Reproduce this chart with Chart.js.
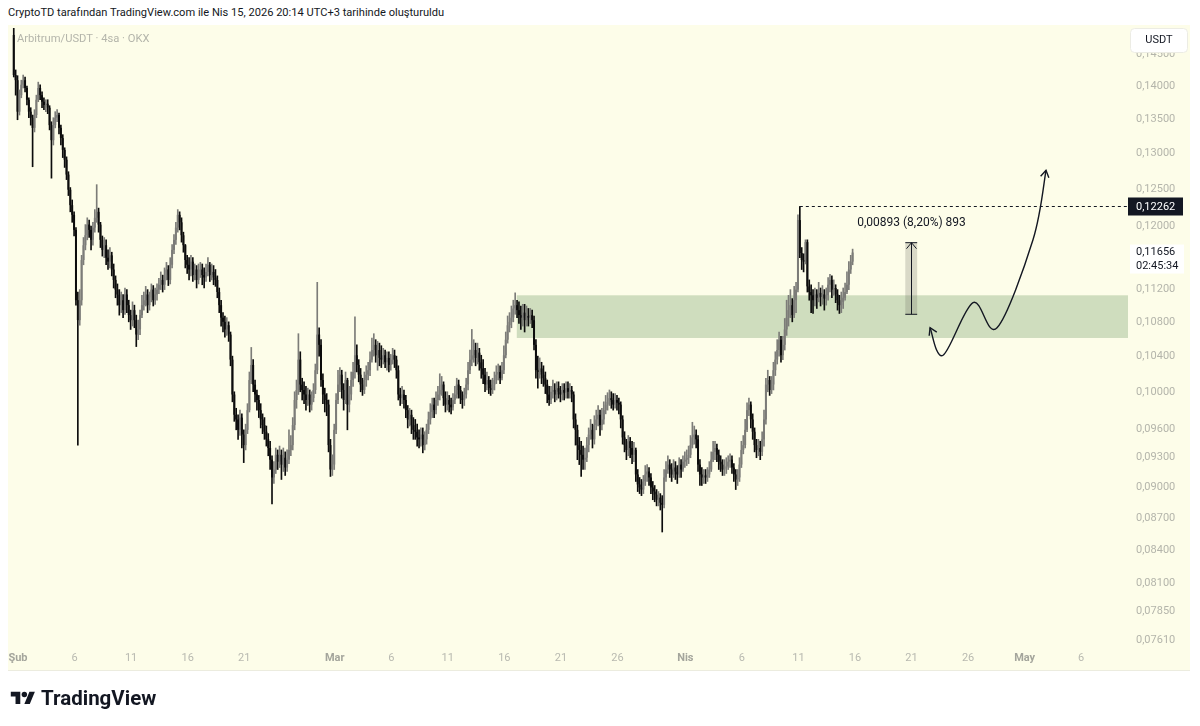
<!DOCTYPE html>
<html lang="tr">
<head>
<meta charset="utf-8">
<title>Arbitrum/USDT · 4sa · OKX</title>
<script src="https://cdn.jsdelivr.net/npm/chart.js@4.4.1/dist/chart.umd.min.js"></script>
<style>
    html, body { margin: 0; padding: 0; background: #ffffff; }
    body { position: relative; width: 1200px; height: 726px; overflow: hidden; font-family: Roboto, "Noto Sans", sans-serif; }
    #baslik { position: absolute; left: 8px; top: 6px; font-size: 11.1px; color: #131722; white-space: nowrap; }
    #panel { position: absolute; left: 8px; top: 25px; width: 1182px; height: 645px; background: #fdfde9; border-bottom: 1px solid #ececdf; }
    #grafik { position: absolute; left: 0; top: 0; }
    #sembol { position: absolute; left: 17px; top: 32px; font-size: 11.2px; color: #b4b5ab; white-space: nowrap; }
    #logo { position: absolute; left: 10px; top: 686px; display: flex; align-items: center; gap: 5px; }
    #logo span { font-size: 20.5px; font-weight: 700; color: #131722; }
</style>
</head>
<body>
<div id="baslik">CryptoTD tarafından TradingView.com ile Nis 15, 2026 20:14 UTC+3 tarihinde oluşturuldu</div>
<div id="panel"></div>
<canvas id="grafik" width="1200" height="726"></canvas>
<div id="sembol">Arbitrum/USDT · 4sa · OKX</div>
<div id="logo"><svg width="26" height="19" viewBox="0 0 36 28"><path d="M14 22H7V11H0V4h14v18z" fill="#131722"/><circle cx="20" cy="8" r="4" fill="#131722"/><path d="M28 22h-8l7.5-18h8L28 22z" fill="#131722"/></svg><span>TradingView</span></div>

<script>
// 4 saatlik mumlar, 31 Oca 15:00 (UTC+3) ile 15 Nis 19:00 arası
// gün ekseni: 1 Şub 00:00 = 0
const baslangicGunu = -0.375;
const mumSuresi = 1 / 6;
const ilkAcilis = 0.1481;

const kapanislar = [
    .1417, .1409, .1361,                                  // 31 Oca
    .1386, .1402, .1409, .1397, .1379, .1361,             // 1 Şub
    .1352, .1337, .1356, .1379, .1397, .1386,
    .1376, .1371, .1373, .1367, .1341, .1319,
    .1341, .1352, .1356, .1337, .1322, .1305,
    .1291, .1270, .1249, .1228, .1215, .1195,
    .1106, .1082, .1106, .1156, .1175, .1188,             // 6 Şub
    .1202, .1195, .1182, .1198, .1211, .1219,
    .1202, .1182, .1169, .1175, .1159, .1154,
    .1162, .1144, .1131, .1119, .1113, .1100,
    .1106, .1094, .1113, .1100, .1088, .1082,
    .1094, .1082, .1065, .1071, .1088, .1100,             // 11 Şub
    .1106, .1113, .1100, .1109, .1119, .1106,
    .1113, .1119, .1125, .1131, .1125, .1137,
    .1144, .1131, .1150, .1169, .1182, .1198,
    .1215, .1205, .1188, .1175, .1156, .1150,
    .1144, .1154, .1137, .1144, .1131, .1141,             // 16 Şub
    .1144, .1137, .1134, .1141, .1150, .1137,
    .1141, .1134, .1131, .1116, .1100, .1085,
    .1080, .1071, .1076, .1065, .1036, .0997,
    .0975, .0970, .0959, .0972, .0954, .0943,
    .0959, .0980, .1013, .1030, .1008, .0997,             // 21 Şub
    .0991, .0980, .0970, .0964, .0957, .0949,
    .0940, .0928, .0910, .0918, .0933, .0926,
    .0933, .0923, .0930, .0920, .0928, .0938,
    .0943, .0964, .0991, .1002, .1036, .1008,
    .1002, .0997, .0991, .0997, .0986, .0993,             // 26 Şub
    .1002, .1024, .1065, .1053, .1013, .0997,
    .0991, .0986, .0943, .0918, .0923, .0959,
    .0991, .1008, .1019, .1002, .0991, .1013,             // 1 Mar
    .0986, .0997, .1013, .1022, .1041, .1030,
    .1019, .1008, .1002, .1013, .1019, .1024,
    .1036, .1047, .1053, .1041, .1047, .1038,
    .1036, .1041, .1033, .1038, .1030, .1036,
    .1041, .1036, .1024, .0997, .0993, .0997,             // 6 Mar
    .0991, .0980, .0970, .0975, .0964, .0959,
    .0957, .0951, .0949, .0954, .0943, .0949,
    .0959, .0970, .0978, .0986, .0980, .0991,
    .0997, .1002, .1008, .0993, .0986, .0991,
    .0986, .0983, .0991, .0997, .1008, .1002,             // 11 Mar
    .0993, .0991, .0997, .1008, .1024, .1036,
    .1041, .1047, .1038, .1044, .1033, .1026,
    .1019, .1008, .1013, .1004, .1002, .1008,
    .1013, .1019, .1022, .1015, .1024, .1041,
    .1059, .1076, .1080, .1085, .1096, .1100,             // 16 Mar
    .1094, .1088, .1085, .1091, .1082, .1087,
    .1085, .1088, .1082, .1053, .1024, .1022,
    .1026, .1019, .1015, .1008, .0997, .0991,
    .1000, .1002, .0997, .1004, .1000, .0997,
    .1002, .0999, .1004, .1000, .1002, .0997,             // 21 Mar
    .0970, .0959, .0943, .0938, .0933, .0928,
    .0930, .0943, .0954, .0959, .0949, .0964,
    .0970, .0975, .0964, .0970, .0980, .0986,
    .0989, .0993, .0991, .0986, .0991, .0988,
    .0986, .0970, .0951, .0943, .0938, .0947,             // 26 Mar
    .0940, .0933, .0938, .0913, .0903, .0900,
    .0898, .0906, .0913, .0916, .0910, .0900,
    .0896, .0893, .0888, .0890, .0885, .0883,
    .0910, .0918, .0923, .0918, .0913, .0920,
    .0916, .0913, .0923, .0918, .0926, .0928,
    .0930, .0933, .0943, .0951, .0954, .0949,             // 1 Nis
    .0923, .0913, .0910, .0912, .0910, .0913,
    .0918, .0928, .0936, .0940, .0933, .0926,
    .0923, .0918, .0920, .0921, .0926, .0928,
    .0920, .0913, .0908, .0910, .0923, .0938,
    .0943, .0959, .0980, .0986, .0970, .0957,             // 6 Nis
    .0943, .0938, .0940, .0936, .0949, .0970,
    .1008, .1013, .1002, .1008, .1024, .1036,
    .1047, .1059, .1041, .1053, .1071, .1085,
    .1094, .1100, .1088, .1106, .1119, .1208,
    .1165, .1156, .1154, .1179, .1123, .1116,             // 11 Nis
    .1112, .1106, .1113, .1109, .1115, .1110,
    .1113, .1108, .1112, .1125, .1131, .1119,
    .1121, .1113, .1106, .1100, .1104, .1109,
    .1116, .1125, .1144, .1154, .11656                    // 15 Nis
];

const yuksekler = [
    .1494, .1425, .1416,
    .1394, .1409, .1417, .1414, .1400, .1382,
    .1367, .1356, .1364, .1386, .1406, .1402,
    .1391, .1382, .1379, .1379, .1370, .1346,
    .1352, .1361, .1364, .1359, .1341, .1327,
    .1308, .1295, .1274, .1252, .1235, .1219,
    .1198, .1116, .1119, .1162, .1185, .1202,
    .1211, .1208, .1200, .1205, .1222, .1256,
    .1224, .1205, .1187, .1185, .1182, .1169,
    .1172, .1166, .1151, .1136, .1126, .1119,
    .1116, .1113, .1121, .1119, .1106, .1094,
    .1104, .1100, .1088, .1082, .1094, .1112,
    .1116, .1123, .1119, .1116, .1126, .1124,
    .1121, .1126, .1133, .1141, .1137, .1146,
    .1153, .1149, .1159, .1176, .1189, .1205,
    .1222, .1219, .1211, .1192, .1176, .1162,
    .1159, .1162, .1159, .1151, .1149, .1151,
    .1153, .1151, .1146, .1151, .1159, .1153,
    .1151, .1149, .1144, .1136, .1121, .1106,
    .1091, .1087, .1085, .1080, .1068, .1040,
    .1000, .0982, .0975, .0980, .0976, .0959,
    .0965, .0987, .1022, .1050, .1036, .1013,
    .1002, .0996, .0987, .0976, .0972, .0963,
    .0955, .0947, .0932, .0926, .0940, .0938,
    .0942, .0938, .0940, .0936, .0938, .0959,
    .0953, .0972, .1000, .1013, .1066, .1045,
    .1015, .1011, .1006, .1004, .1002, .1000,
    .1009, .1031, .1128, .1073, .1059, .1020,
    .1004, .0998, .0991, .0949, .0933, .0965,
    .0998, .1024, .1027, .1024, .1009, .1022,
    .1015, .1006, .1022, .1033, .1086, .1053,
    .1036, .1026, .1015, .1022, .1029, .1033,
    .1045, .1061, .1066, .1059, .1057, .1055,
    .1052, .1049, .1047, .1045, .1045, .1042,
    .1049, .1047, .1040, .1029, .1004, .1006,
    .1002, .0996, .0985, .0982, .0980, .0972,
    .0970, .0965, .0959, .0961, .0961, .0957,
    .0965, .0978, .0987, .0993, .0993, .1000,
    .1006, .1020, .1017, .1011, .1000, .1000,
    .0996, .0993, .0998, .1006, .1015, .1013,
    .1006, .1000, .1004, .1015, .1033, .1047,
    .1071, .1059, .1055, .1055, .1049, .1041,
    .1036, .1026, .1022, .1017, .1013, .1015,
    .1022, .1029, .1031, .1029, .1033, .1052,
    .1068, .1087, .1091, .1099, .1106, .1115,
    .1106, .1104, .1099, .1101, .1101, .1099,
    .1096, .1096, .1094, .1087, .1059, .1040,
    .1038, .1033, .1029, .1022, .1013, .1006,
    .1006, .1013, .1009, .1011, .1011, .1006,
    .1009, .1009, .1011, .1011, .1009, .1006,
    .1000, .0976, .0964, .0951, .0947, .0942,
    .0940, .0951, .0961, .0970, .0965, .0974,
    .0980, .0985, .0980, .0982, .0989, .0996,
    .0999, .1002, .1000, .0998, .0998, .0996,
    .0993, .0989, .0974, .0957, .0949, .0953,
    .0951, .0947, .0946, .0940, .0918, .0910,
    .0908, .0912, .0922, .0923, .0920, .0914,
    .0906, .0902, .0898, .0896, .0894, .0892,
    .0918, .0926, .0932, .0928, .0924, .0928,
    .0926, .0922, .0930, .0928, .0932, .0936,
    .0938, .0942, .0953, .0967, .0963, .0959,
    .0953, .0928, .0920, .0918, .0918, .0920,
    .0926, .0936, .0947, .0947, .0944, .0938,
    .0932, .0928, .0928, .0930, .0932, .0934,
    .0932, .0924, .0918, .0918, .0930, .0947,
    .0953, .0970, .0988, .0993, .0989, .0976,
    .0961, .0949, .0949, .0947, .0957, .0980,
    .1015, .1024, .1017, .1017, .1033, .1045,
    .1059, .1068, .1063, .1063, .1084, .1106,
    .1112, .1119, .1108, .1123, .1128, .1215,
    .12262, .1172, .1164, .1182, .1182, .1131,
    .1125, .1119, .1121, .1119, .1128, .1121,
    .1124, .1119, .1121, .1134, .1138, .1136,
    .1131, .1125, .1119, .1112, .1116, .1121,
    .1127, .1141, .1154, .1162, .1170
];

const dusukler = [
    .1414, .1386, .1349,
    .1356, .1382, .1397, .1391, .1371, .1352,
    .1341, .1281, .1331, .1352, .1376, .1379,
    .1367, .1364, .1361, .1358, .1334, .1265,
    .1312, .1337, .1346, .1328, .1312, .1294,
    .1280, .1263, .1241, .1219, .1205, .1187,
    .1100, .0943, .1076, .1100, .1150, .1169,
    .1182, .1185, .1169, .1175, .1192, .1205,
    .1192, .1172, .1161, .1159, .1150, .1144,
    .1146, .1136, .1121, .1109, .1100, .1088,
    .1091, .1085, .1089, .1091, .1080, .1071,
    .1075, .1073, .1051, .1059, .1065, .1085,
    .1094, .1099, .1091, .1094, .1104, .1099,
    .1101, .1106, .1114, .1119, .1116, .1119,
    .1131, .1124, .1126, .1146, .1164, .1176,
    .1192, .1195, .1179, .1166, .1146, .1139,
    .1131, .1136, .1129, .1131, .1121, .1126,
    .1134, .1125, .1121, .1129, .1136, .1129,
    .1131, .1125, .1123, .1109, .1091, .1075,
    .1068, .1062, .1064, .1057, .1029, .0989,
    .0968, .0959, .0949, .0953, .0940, .0925,
    .0938, .0955, .0978, .1009, .1000, .0989,
    .0980, .0972, .0961, .0955, .0949, .0942,
    .0932, .0918, .0884, .0904, .0914, .0918,
    .0920, .0908, .0916, .0912, .0916, .0924,
    .0932, .0938, .0959, .0982, .0997, .1000,
    .0991, .0987, .0980, .0985, .0978, .0980,
    .0989, .0998, .1020, .1040, .1006, .0987,
    .0978, .0974, .0936, .0911, .0912, .0918,
    .0955, .0987, .1000, .0993, .0980, .0987,
    .0959, .0978, .0991, .1006, .1015, .1022,
    .1011, .1000, .0996, .0998, .1006, .1013,
    .1018, .1033, .1040, .1033, .1024, .1029,
    .1027, .1031, .1027, .1024, .1022, .1024,
    .1031, .1027, .1015, .0991, .0985, .0987,
    .0982, .0972, .0961, .0963, .0955, .0949,
    .0949, .0942, .0940, .0942, .0935, .0938,
    .0944, .0955, .0965, .0972, .0972, .0976,
    .0985, .0991, .0996, .0985, .0978, .0980,
    .0978, .0976, .0980, .0987, .0993, .0993,
    .0987, .0982, .0985, .0993, .1002, .1020,
    .1029, .1033, .1029, .1031, .1024, .1015,
    .1009, .1000, .1002, .0998, .0996, .0998,
    .1002, .1009, .1013, .1009, .1013, .1020,
    .1038, .1055, .1068, .1073, .1080, .1089,
    .1085, .1078, .1071, .1075, .1068, .1075,
    .1075, .1078, .1073, .1047, .1015, .1004,
    .1015, .1009, .1006, .0998, .0988, .0985,
    .0987, .0993, .0989, .0991, .0993, .0989,
    .0991, .0991, .0993, .0993, .0993, .0989,
    .0961, .0943, .0928, .0923, .0911, .0918,
    .0918, .0926, .0936, .0949, .0940, .0944,
    .0959, .0963, .0953, .0959, .0965, .0976,
    .0980, .0985, .0982, .0980, .0982, .0980,
    .0976, .0961, .0944, .0936, .0928, .0932,
    .0930, .0924, .0926, .0906, .0896, .0894,
    .0892, .0894, .0902, .0906, .0902, .0894,
    .0888, .0886, .0882, .0882, .0878, .0857,
    .0880, .0906, .0914, .0910, .0906, .0910,
    .0908, .0904, .0910, .0910, .0916, .0920,
    .0922, .0924, .0930, .0940, .0944, .0940,
    .0916, .0902, .0902, .0904, .0904, .0906,
    .0910, .0916, .0926, .0928, .0926, .0918,
    .0916, .0912, .0912, .0914, .0918, .0920,
    .0914, .0906, .0898, .0902, .0906, .0920,
    .0934, .0940, .0957, .0974, .0961, .0949,
    .0936, .0930, .0932, .0928, .0932, .0942,
    .0965, .1000, .0996, .0998, .1002, .1018,
    .1031, .1040, .1033, .1036, .1047, .1064,
    .1075, .1085, .1080, .1085, .1091, .1116,
    .1159, .1144, .1141, .1151, .1116, .1106,
    .1091, .1090, .1099, .1096, .1104, .1099,
    .1101, .1094, .1100, .1106, .1116, .1109,
    .1112, .1103, .1094, .1090, .1091, .1096,
    .1106, .1114, .1119, .1139, .1150
];

// eksen etiketleri
const xEtiketGunleri = [0, 5, 10, 15, 20, 28, 33, 38, 43, 48, 53, 59, 64, 69, 74, 79, 84, 89, 94];
const xEtiketleri = ['Şub', '6', '11', '16', '21', 'Mar', '6', '11', '16', '21', '26', 'Nis', '6', '11', '16', '21', '26', 'May', '6'];
const yEtiketleri = [0.145, 0.14, 0.135, 0.13, 0.125, 0.12, 0.116, 0.112, 0.108, 0.104, 0.1, 0.096, 0.093, 0.09, 0.087, 0.084, 0.081, 0.0785, 0.0761];

// çizimler
const zirveFiyat = 0.12262;
const sonFiyat = 0.11656;
const kalanSure = '02:45:34';
const bolgeBaslangicGunu = 44.1;
const bolgeFiyatlari = [0.1061, 0.1112];
const olcumGunleri = [78.45, 79.5];
const olcumFiyatlari = [0.1089, 0.11783];
const elCizimi = [[80.64, 0.1073], [81.79, 0.1041], [84.44, 0.1103], [86.56, 0.1073], [89.74, 0.1182], [90.89, 0.1276]];

const yaziTipi = 'Roboto, "Noto Sans", sans-serif';
const yukselisRengi = '#7c7c78';
const dususRengi = '#0c0c0c';

document.addEventListener('DOMContentLoaded', function () {

    const mumlar = kapanislar.map((c, i) => {
        const o = i === 0 ? ilkAcilis : kapanislar[i - 1];
        return {
            x: baslangicGunu + i * mumSuresi,
            o: o,
            h: Math.max(yuksekler[i], o, c),
            l: Math.min(dusukler[i], o, c),
            c: c
        };
    });

    const renkler = mumlar.map(m => m.c >= m.o ? yukselisRengi : dususRengi);

    const ayMi = i => isNaN(Number(xEtiketleri[i]));
    const fiyatYaz = v => v.toFixed(5).replace('.', ',');

    function okUcu(ctx, a, b) {
        const aci = Math.atan2(b.py - a.py, b.px - a.px);
        const l = 8;
        ctx.beginPath();
        ctx.moveTo(b.px - l * Math.cos(aci - 0.55), b.py - l * Math.sin(aci - 0.55));
        ctx.lineTo(b.px, b.py);
        ctx.lineTo(b.px - l * Math.cos(aci + 0.55), b.py - l * Math.sin(aci + 0.55));
        ctx.stroke();
    }

    const cizimler = {
        id: 'cizimler',
        beforeDatasetsDraw(chart) {
            const { ctx, chartArea, scales: { x, y } } = chart;
            const bx = x.getPixelForValue(bolgeBaslangicGunu);
            const bUst = y.getPixelForValue(bolgeFiyatlari[1]);
            const bAlt = y.getPixelForValue(bolgeFiyatlari[0]);
            ctx.save();
            ctx.fillStyle = '#cfddbe';
            ctx.fillRect(bx, bUst, chartArea.right - bx, bAlt - bUst);
            ctx.restore();
        },
        afterDatasetsDraw(chart) {
            const { ctx, chartArea, scales: { x, y } } = chart;
            ctx.save();

            // zirve seviyesi kesikli çizgi
            const zi = yuksekler.indexOf(zirveFiyat);
            const zx = x.getPixelForValue(mumlar[zi].x);
            const zy = Math.round(y.getPixelForValue(zirveFiyat)) + 0.5;
            ctx.strokeStyle = '#131722';
            ctx.lineWidth = 1;
            ctx.setLineDash([3, 3]);
            ctx.beginPath();
            ctx.moveTo(zx, zy);
            ctx.lineTo(chartArea.right, zy);
            ctx.stroke();
            ctx.setLineDash([]);

            // ölçüm aracı
            const ox1 = x.getPixelForValue(olcumGunleri[0]);
            const ox2 = x.getPixelForValue(olcumGunleri[1]);
            const ox = Math.round((ox1 + ox2) / 2) + 0.5;
            const oAlt = y.getPixelForValue(olcumFiyatlari[0]);
            const oUst = y.getPixelForValue(olcumFiyatlari[1]);
            ctx.fillStyle = 'rgba(110, 112, 100, 0.25)';
            ctx.fillRect(ox1, oUst, ox2 - ox1, oAlt - oUst);
            ctx.beginPath();
            ctx.moveTo(ox, oAlt);
            ctx.lineTo(ox, oUst);
            ctx.moveTo(ox1, oAlt);
            ctx.lineTo(ox2, oAlt);
            ctx.moveTo(ox1, oUst);
            ctx.lineTo(ox2, oUst);
            ctx.moveTo(ox - 5, oUst + 6);
            ctx.lineTo(ox, oUst);
            ctx.lineTo(ox + 5, oUst + 6);
            ctx.stroke();

            const fark = olcumFiyatlari[1] - olcumFiyatlari[0];
            const yuzde = fark / olcumFiyatlari[0] * 100;
            const metin = `${fiyatYaz(fark)} (${yuzde.toFixed(2).replace('.', ',')}%) ${Math.round(fark * 100000)}`;
            ctx.font = `12px ${yaziTipi}`;
            ctx.fillStyle = '#131722';
            ctx.textAlign = 'center';
            ctx.textBaseline = 'middle';
            ctx.fillText(metin, ox, oUst - 20);

            // el çizimi ok
            const p = elCizimi.map(([g, f]) => ({ px: x.getPixelForValue(g), py: y.getPixelForValue(f) }));
            ctx.lineWidth = 1.4;
            ctx.beginPath();
            ctx.moveTo(p[0].px, p[0].py);
            for (let i = 0; i < p.length - 1; i++) {
                const p0 = p[Math.max(i - 1, 0)], p1 = p[i], p2 = p[i + 1], p3 = p[Math.min(i + 2, p.length - 1)];
                ctx.bezierCurveTo(
                    p1.px + (p2.px - p0.px) / 6, p1.py + (p2.py - p0.py) / 6,
                    p2.px - (p3.px - p1.px) / 6, p2.py - (p3.py - p1.py) / 6,
                    p2.px, p2.py
                );
            }
            ctx.stroke();
            okUcu(ctx, p[1], p[0]);
            okUcu(ctx, p[p.length - 2], p[p.length - 1]);

            // fiyat ekseni etiketleri
            const sag = chartArea.right;
            ctx.lineWidth = 1;
            ctx.textAlign = 'left';
            ctx.font = `11px ${yaziTipi}`;

            ctx.fillStyle = '#131722';
            ctx.fillRect(sag, zy - 9, 55, 18);
            ctx.fillStyle = '#ffffff';
            ctx.fillText(fiyatYaz(zirveFiyat), sag + 8, zy + 0.5);

            const sy = y.getPixelForValue(sonFiyat);
            ctx.fillStyle = '#ffffff';
            ctx.fillRect(sag + 2, sy - 8, 54, 29);
            ctx.fillStyle = '#131722';
            ctx.fillText(fiyatYaz(sonFiyat), sag + 8, sy);
            ctx.fillText(kalanSure, sag + 8, sy + 14);

            // para birimi kutusu
            ctx.fillStyle = '#ffffff';
            ctx.strokeStyle = '#ecece4';
            ctx.beginPath();
            ctx.roundRect(sag + 2.5, chartArea.top + 0.5, 57, 24, 4);
            ctx.fill();
            ctx.stroke();
            ctx.fillStyle = '#131722';
            ctx.textAlign = 'center';
            ctx.fillText('USDT', sag + 31, chartArea.top + 12.5);

            ctx.restore();
        }
    };

    new Chart(document.getElementById('grafik'), {
        type: 'bar',
        data: {
            datasets: [
                {
                    label: 'fitil',
                    data: mumlar.map(m => ({ x: m.x, y: [m.l, m.h] })),
                    backgroundColor: renkler,
                    grouped: false,
                    barPercentage: 1,
                    categoryPercentage: 1,
                    maxBarThickness: 1,
                    borderWidth: 0,
                    borderSkipped: false
                },
                {
                    label: 'govde',
                    data: mumlar.map(m => ({ x: m.x, y: [m.o, m.c] })),
                    backgroundColor: renkler,
                    grouped: false,
                    barPercentage: 1.2,
                    categoryPercentage: 1,
                    maxBarThickness: 2,
                    minBarLength: 1,
                    borderWidth: 0,
                    borderSkipped: false
                }
            ]
        },
        options: {
            responsive: false,
            animation: false,
            events: [],
            layout: { padding: { left: 10, top: 28, right: 0, bottom: 56 } },
            plugins: {
                legend: { display: false },
                tooltip: { enabled: false }
            },
            scales: {
                x: {
                    type: 'linear',
                    offset: false,
                    min: -0.707,
                    max: 98.14,
                    grid: { display: false, drawTicks: false, offset: false },
                    border: { display: false },
                    afterBuildTicks: s => { s.ticks = xEtiketGunleri.map(v => ({ value: v })); },
                    afterFit: s => { s.height = 22; },
                    ticks: {
                        autoSkip: false,
                        maxRotation: 0,
                        padding: 4,
                        callback: (v, i) => xEtiketleri[i],
                        color: c => ayMi(c.index) ? '#a4a59c' : '#b8b9b0',
                        font: c => ({ family: yaziTipi, size: 11, weight: ayMi(c.index) ? 'bold' : 'normal' })
                    }
                },
                y: {
                    type: 'logarithmic',
                    position: 'right',
                    min: 0.07543,
                    max: 0.14923,
                    grid: { display: false, drawTicks: false },
                    border: { display: false },
                    afterBuildTicks: s => { s.ticks = yEtiketleri.map(v => ({ value: v })); },
                    afterFit: s => { s.width = 72; },
                    ticks: {
                        autoSkip: false,
                        padding: 8,
                        color: '#b4b5ab',
                        font: { family: yaziTipi, size: 11 },
                        callback: v => fiyatYaz(v)
                    }
                }
            }
        },
        plugins: [cizimler]
    });

});
</script>
</body>
</html>
